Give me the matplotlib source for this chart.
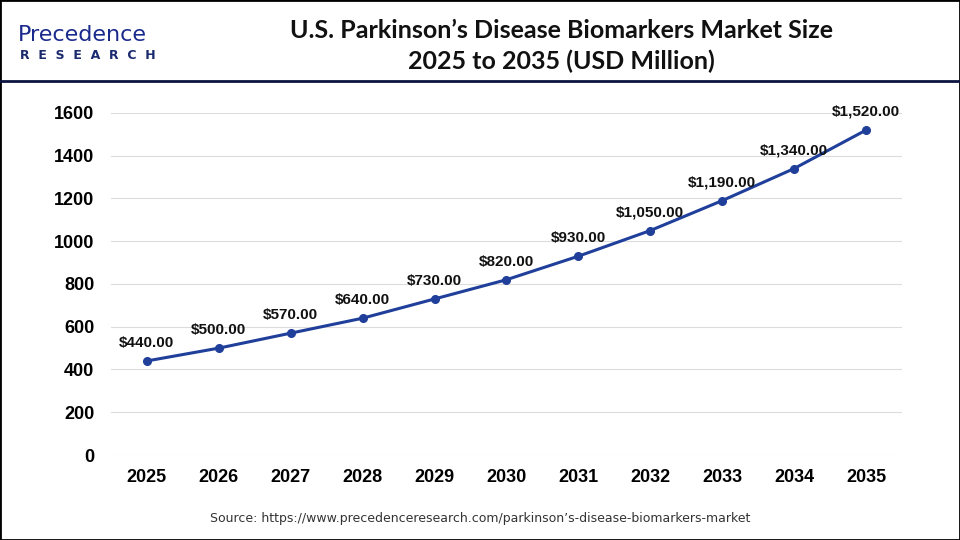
import matplotlib.pyplot as plt
from matplotlib.lines import Line2D
from matplotlib.patches import Rectangle

years = [2025, 2026, 2027, 2028, 2029, 2030, 2031, 2032, 2033, 2034, 2035]
values = [440, 500, 570, 640, 730, 820, 930, 1050, 1190, 1340, 1520]
yticks = [0, 200, 400, 600, 800, 1000, 1200, 1400, 1600]

fig = plt.figure(figsize=(9.6, 5.4), dpi=100)
ax = fig.add_axes([0.1156, 0.1574, 0.824, 0.6334])

ax.plot(years, values, color="#1f3f9a", linewidth=2.2, marker="o", markersize=5.5)
for x, v in zip(years, values):
    ax.annotate(f"${v:,.2f}", xy=(x, v), xytext=(0, 8), textcoords="offset points",
                ha="center", va="bottom", fontsize=11, fontweight="bold", color="#111111",
                family="Liberation Sans", annotation_clip=False)

ax.set_xlim(2024.5, 2035.5)
ax.set_ylim(0, 1600)
ax.set_xticks(years)
ax.set_xticklabels([str(y) for y in years], fontsize=13, fontweight="bold", family="Liberation Sans")
ax.set_yticks(yticks)
ax.set_yticklabels([str(t) for t in yticks], fontsize=13, fontweight="bold", family="Liberation Sans")
ax.tick_params(axis="y", length=0, pad=12)
ax.tick_params(axis="x", length=0, pad=10)
ax.grid(axis="y", color="#dcdcdc", linewidth=0.8)
ax.set_axisbelow(True)
for s in ax.spines.values():
    s.set_visible(False)

# header
fig.text(0.585, 0.915, "U.S. Parkinson\u2019s Disease Biomarkers Market Size\n2025 to 2035 (USD Million)",
         ha="center", va="center", fontsize=18, fontweight="bold", family="Lato",
         linespacing=1.35, color="#111111")
fig.add_artist(Line2D([0, 1], [1 - 81 / 540, 1 - 81 / 540], transform=fig.transFigure,
                      color="#0d1440", linewidth=2))
fig.text(0.019, 0.935, "Precedence", fontsize=16, color="#1a2a8c", family="DejaVu Sans",
         ha="left", va="center")
fig.text(0.021, 0.897, "R  E  S  E  A  R  C  H", fontsize=9, fontweight="bold",
         color="#1a2a6c", ha="left", va="center")

fig.text(0.5, 0.04, "Source: https://www.precedenceresearch.com/parkinson\u2019s-disease-biomarkers-market",
         ha="center", va="center", fontsize=9, color="#333333", family="Liberation Sans Narrow")

fig.add_artist(Rectangle((0, 0), 1, 1, transform=fig.transFigure, fill=False,
                         edgecolor="black", linewidth=2))

fig.savefig("out.png", dpi=100)
